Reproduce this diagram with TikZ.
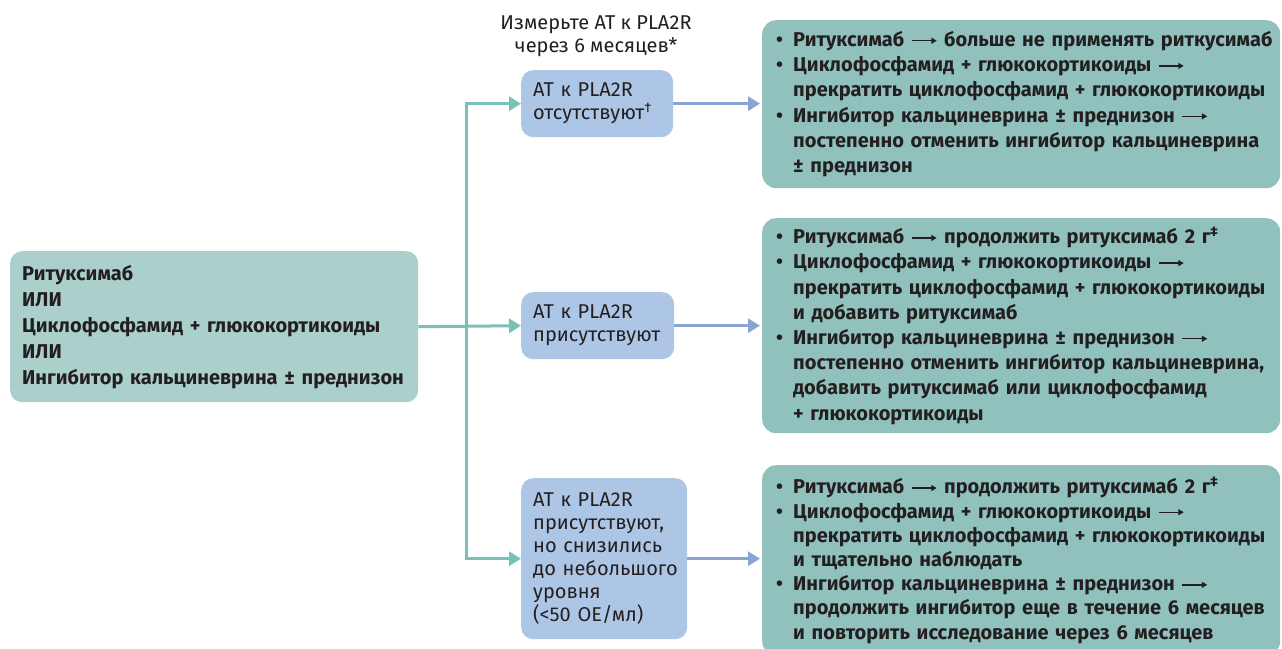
\documentclass[tikz,border=0pt]{standalone}
\usepackage{fontspec}
\setmainfont{Fira Sans}
\usetikzlibrary{arrows.meta}

\definecolor{leftfill}{HTML}{ABCFCB}
\definecolor{midfill}{HTML}{AEC6E6}
\definecolor{rightfill}{HTML}{91C1BC}
\definecolor{tealline}{HTML}{79C0B8}
\definecolor{blueline}{HTML}{89A4D3}
\definecolor{ink}{HTML}{231F20}

% small inline arrow used inside the treatment lists
\newcommand\inarrow{\tikz[baseline=-0.55ex]\draw[line width=1.4pt,-{Triangle[length=5.5pt,width=6pt]}](0pt,0pt)--(25pt,0pt);}
% bullet line and continuation line of a list
\newcommand\bl[1]{\mbox{\makebox[17pt][l]{\textbullet}#1}}
\newcommand\cl[1]{\mbox{\hspace*{17pt}#1}}

\begin{document}
\begin{tikzpicture}[x=1pt,y=-1pt,
  every node/.style={text=ink},
  leftbox/.style={fill=leftfill, rounded corners=12pt, anchor=north west,
    inner xsep=12pt, inner ysep=0pt, align=left,
    font=\fontsize{20}{26}\selectfont\bfseries},
  midbox/.style={fill=midfill, rounded corners=12pt, anchor=north west,
    inner xsep=12pt, inner ysep=0pt, align=left,
    font=\fontsize{20}{23}\selectfont},
  rightbox/.style={fill=rightfill, rounded corners=14pt, anchor=north west,
    inner xsep=14pt, inner ysep=0pt, align=left, text width=490pt,
    minimum width=518pt, font=\fontsize{20}{25.2}\selectfont\bfseries},
  tealarrow/.style={draw=tealline, line width=3pt, -{Triangle[length=12pt,width=14pt]}},
  bluearrow/.style={draw=blueline, line width=3pt, -{Triangle[length=12pt,width=14pt]}, shorten >=2pt},
]
\useasboundingbox (0,0) rectangle (1282,648);

% starting therapy
\node[leftbox, text width=384pt, minimum height=151pt] (start) at (10,251)
  {Ритуксимаб\\ИЛИ\\Циклофосфамид + глюкокортикоиды\\ИЛИ\\Ингибитор кальциневрина ± преднизон};

% measurement heading
\node[align=center, font=\fontsize{20}{23}\selectfont] (head) at (596,36)
  {Измерьте АТ к PLA2R\\через 6 месяцев*};

% antibody status boxes
\node[midbox, text width=128pt, minimum height=67pt] (absent) at (521,70)
  {\mbox{АТ к PLA2R}\\\mbox{отсутствуют\textsuperscript{†}}};
\node[midbox, text width=129pt, minimum height=67pt] (present) at (521,292)
  {\mbox{АТ к PLA2R}\\\mbox{присутствуют}};
\node[midbox, text width=142pt, minimum height=161pt] (low) at (521,478)
  {\mbox{АТ к PLA2R}\\\mbox{присутствуют,}\\\mbox{но снизились}\\\mbox{до небольшого}\\\mbox{уровня}\\\mbox{(<50 ОЕ/мл)}};

% recommended actions
\node[rightbox, minimum height=168pt] (act1) at (762,20)
  {\bl{Ритуксимаб \inarrow\ больше не применять риткусимаб}\\
   \bl{Циклофосфамид + глюкокортикоиды \inarrow}\\
   \cl{прекратить циклофосфамид + глюкокортикоиды}\\
   \bl{Ингибитор кальциневрина ± преднизон \inarrow}\\
   \cl{постепенно отменить ингибитор кальциневрина}\\
   \cl{± преднизон}};
\node[rightbox, minimum height=215pt] (act2) at (762,218)
  {\bl{Ритуксимаб \inarrow\ продолжить ритуксимаб 2 г\textsuperscript{‡}}\\
   \bl{Циклофосфамид + глюкокортикоиды \inarrow}\\
   \cl{прекратить циклофосфамид + глюкокортикоиды}\\
   \cl{и добавить ритуксимаб}\\
   \bl{Ингибитор кальциневрина ± преднизон \inarrow}\\
   \cl{постепенно отменить ингибитор кальциневрина,}\\
   \cl{добавить ритуксимаб или циклофосфамид}\\
   \cl{+ глюкокортикоиды}};
\node[rightbox, minimum height=190pt,
      font=\fontsize{20}{24.2}\selectfont\bfseries] (act3) at (762,465)
  {\bl{Ритуксимаб \inarrow\ продолжить ритуксимаб 2 г\textsuperscript{‡}}\\
   \bl{Циклофосфамид + глюкокортикоиды \inarrow}\\
   \cl{прекратить циклофосфамид + глюкокортикоиды}\\
   \cl{и тщательно наблюдать}\\
   \bl{Ингибитор кальциневрина ± преднизон \inarrow}\\
   \cl{продолжить ингибитор еще в течение 6 месяцев}\\
   \cl{и повторить исследование через 6 месяцев}};

% branching connectors
\coordinate (fork) at (466,0 |- start.east);
\draw[tealarrow] (start.east) -- (present.west);
\draw[tealarrow] (fork) |- (absent.west);
\draw[tealarrow] (fork) |- (low.west);

% status to action
\draw[bluearrow] (absent.east) -- (absent.east -| act1.west);
\draw[bluearrow] (present.east) -- (present.east -| act2.west);
\draw[bluearrow] (low.east) -- (low.east -| act3.west);
\end{tikzpicture}
\end{document}
